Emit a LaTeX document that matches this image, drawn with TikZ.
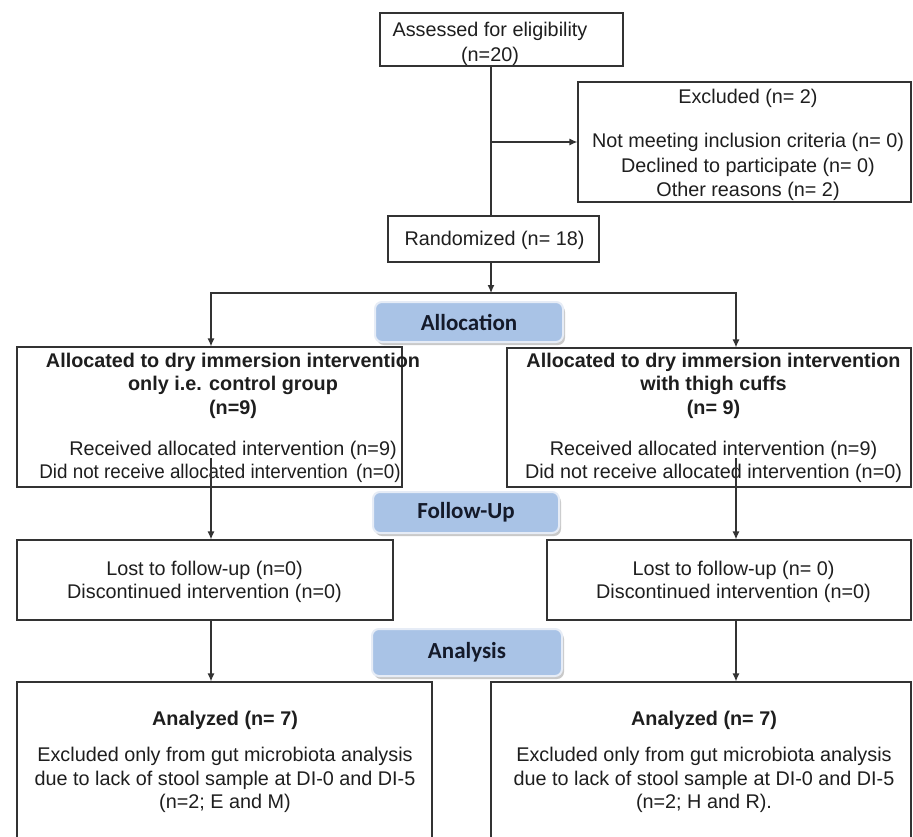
\documentclass[tikz,border=0pt]{standalone}
\usepackage{fontspec}
\setmainfont{Liberation Sans}
\newfontfamily\carlito{Carlito}
\usetikzlibrary{arrows.meta,shadows}
\definecolor{edge}{HTML}{333333}
\definecolor{ink}{HTML}{1E1E1E}
\definecolor{labfill}{HTML}{A9C3E6}
\definecolor{labrim}{HTML}{E6ECF6}
\definecolor{labink}{HTML}{141A2A}
\tikzset{
  box/.style={draw=edge, line width=1.2pt, inner sep=0pt, fill=none},
  txt/.style={align=center, inner sep=0pt, text=ink,
    font=\fontsize{19.8}{23.5}\selectfont},
  lab/.style={rounded corners=7pt, fill=labfill, draw=labrim, line width=2pt,
    inner sep=0pt, text=labink, font=\carlito\bfseries\fontsize{23}{27}\selectfont,
    drop shadow={shadow xshift=2pt, shadow yshift=-3pt, fill=black!35, opacity=0.6}},
  conn/.style={draw=edge, line width=1.2pt},
  arr/.style={conn, -{Latex[length=8pt,width=7pt]}}
}
\begin{document}
\begin{tikzpicture}[x=1pt,y=-1pt]
\useasboundingbox (0,0) rectangle (913,836);
\clip (0,0) rectangle (913,836);
\fill[white] (0,0) rectangle (913,836);

% boxes
\node[box, minimum width=243pt, minimum height=53pt] (assess) at (501.5,39.5) {};
\node[txt] (assessT) at (490,43.5) {Assessed for eligibility\\[1.5pt](n=20)};

\node[box, minimum width=333pt, minimum height=120pt] (excl) at (744.5,142) {};
\node[txt] (exclT) at (748,145) {Excluded (n= 2)\\[21pt]Not meeting inclusion criteria (n= 0)\\[1pt]Declined to participate (n= 0)\\[1pt]Other reasons (n= 2)};

\node[box, minimum width=211pt, minimum height=46pt] (rand) at (493.5,239) {};
\node[txt] (randT) at (494.5,240) {Randomized (n= 18)};

\node[lab, minimum width=188pt, minimum height=40pt] (allocLab) at (469,322) {Allocation};

\node[box, minimum width=385pt, minimum height=140pt] (allocL) at (209.5,417) {};
\node[txt] (allocLT) at (233,418) {\bfseries Allocated to dry immersion intervention\\\bfseries only i.e. control group\\\bfseries (n=9)\\[17.5pt]Received allocated intervention (n=9)\\\scalebox{0.95}[1]{Did not receive allocated intervention\ \,(n=0)}\hspace*{26pt}};

\node[box, minimum width=404pt, minimum height=139pt] (allocR) at (709,417.5) {};
\node[txt] (allocRT) at (713.5,418) {\bfseries Allocated to dry immersion intervention\\\bfseries with thigh cuffs\\\bfseries (n= 9)\\[17.5pt]Received allocated intervention (n=9)\\Did not receive allocated intervention (n=0)};

\node[lab, minimum width=186pt, minimum height=41pt] (followLab) at (466,512.5) {Follow-Up};

\node[box, minimum width=376pt, minimum height=80pt] (followL) at (205,580) {};
\node[txt] (followLT) at (204.5,582) {Lost to follow-up (n=0)\\Discontinued intervention (n=0)};

\node[box, minimum width=364pt, minimum height=80pt] (followR) at (729,580) {};
\node[txt] (followRT) at (733.5,582) {Lost to follow-up (n= 0)\\Discontinued intervention (n=0)};

\node[lab, minimum width=190pt, minimum height=47pt] (anaLab) at (467,652.5) {Analysis};

\node[box, minimum width=415pt, minimum height=168pt] (anaL) at (224.5,766) {};
\node[txt] (anaLT) at (225,762) {\bfseries Analyzed (n= 7)\\[12.5pt]Excluded only from gut microbiota analysis\\due to lack of stool sample at DI-0 and DI-5\\(n=2; E and M)};

\node[box, minimum width=420pt, minimum height=168pt] (anaR) at (701,766) {};
\node[txt] (anaRT) at (704,762) {\bfseries Analyzed (n= 7)\\[12.5pt]Excluded only from gut microbiota analysis\\due to lack of stool sample at DI-0 and DI-5\\(n=2; H and R).};

% connectors
\coordinate (spine) at (491,0);
\coordinate (split) at (491,293);
\coordinate (colL) at (211,0);
\coordinate (colR) at (736,0);
\coordinate (startL) at (211,458);
\coordinate (startR) at (736,458);

\draw[conn] (spine |- assess.south) -- (spine |- rand.north);
\draw[arr] (spine |- excl.west) -- (excl.west);
\draw[arr] (spine |- rand.south) -- (split);
\draw[arr] (split) -| (colL |- allocL.north);
\draw[arr] (split) -| (colR |- allocR.north);
\draw[arr] (startL) -- (startL |- followL.north);
\draw[arr] (startR) -- (startR |- followR.north);
\draw[arr] (colL |- followL.south) -- (colL |- anaL.north);
\draw[arr] (colR |- followR.south) -- (colR |- anaR.north);
\end{tikzpicture}
\end{document}
